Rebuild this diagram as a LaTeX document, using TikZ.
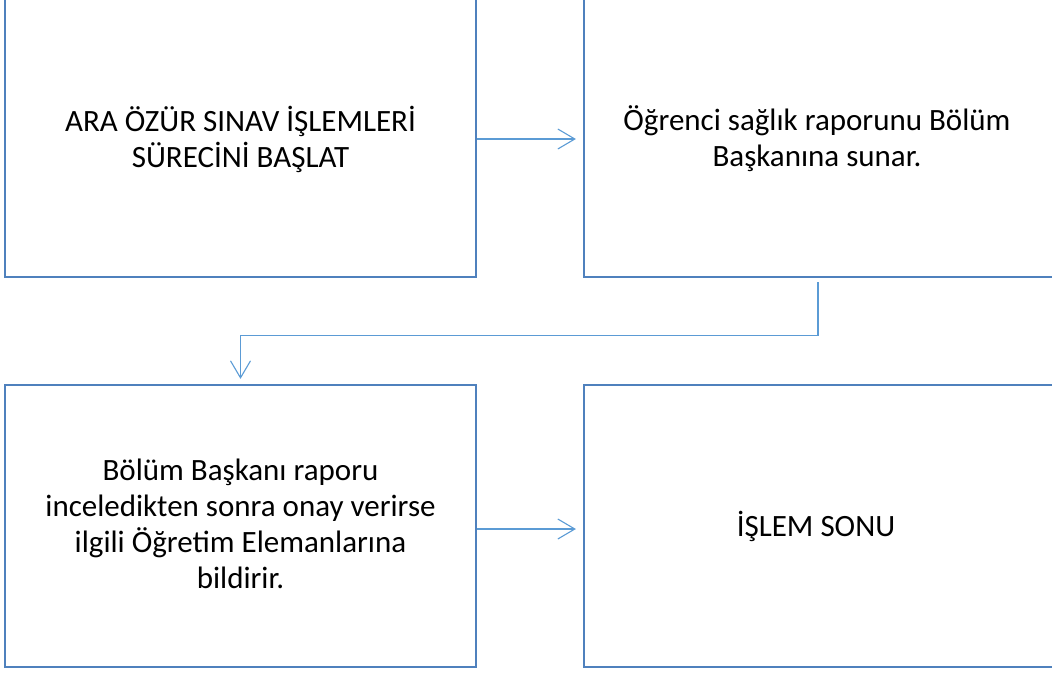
\documentclass[tikz,border=0pt]{standalone}
\usepackage{fontspec}
\setmainfont{Carlito}
\usetikzlibrary{arrows.meta}
\definecolor{boxblue}{RGB}{79,129,189}
\definecolor{linkblue}{RGB}{91,155,213}
\begin{document}
\begin{tikzpicture}[x=1pt,y=-1pt,
  box/.style={draw=boxblue, line width=2.2pt, fill=white, minimum width=471pt, inner sep=0pt},
  txt/.style={font=\fontsize{31}{36}\selectfont, align=center, text=black, inner sep=0pt},
  link/.style={draw=linkblue, line width=1.1pt, -{Straight Barb[length=17pt,width=20pt,line width=1.1pt]}}]
\useasboundingbox (0,0) rectangle (1052,673);
\clip (0,0) rectangle (1052,673);
\node[box, minimum height=297pt] (b1) at (240.5,128.5) {};
\node[box, minimum height=297pt] (b2) at (819.5,128.5) {};
\node[box, minimum height=282pt] (b3) at (240.5,526) {};
\node[box, minimum height=282pt] (b4) at (819.5,526) {};
\node[txt] (t1) at (240.5,139) {ARA ÖZÜR SINAV İŞLEMLERİ\\SÜRECİNİ BAŞLAT};
\node[txt] (t2) at (817,139) {Öğrenci sağlık raporunu Bölüm\\Başkanına sunar.};
\node[txt] (t3) at (240.5,524) {Bölüm Başkanı raporu\\inceledikten sonra onay verirse\\ilgili Öğretim Elemanlarına\\bildirir.};
\node[txt] (t4) at (816,526) {İŞLEM SONU};
\draw[link, shorten >=7pt] (t1 -| b1.east) -- (t1 -| b2.west);
\draw[link, shorten >=7pt] ([yshift=-3pt]b3.east) -- ([yshift=-3pt]b4.west);
\draw[link, shorten <=4pt, shorten >=5pt] ([xshift=-1.5pt]b2.south) -- ++(0,57) -| (b3.north);
\end{tikzpicture}
\end{document}
